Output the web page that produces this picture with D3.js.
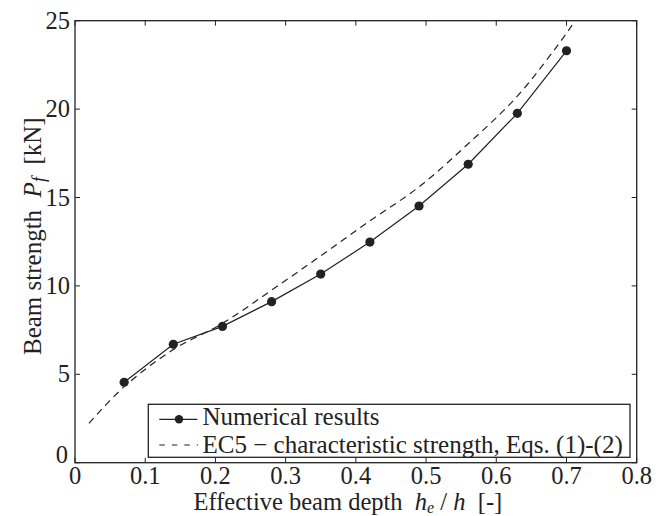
<!DOCTYPE html>
<html><head><meta charset="utf-8">
<script src="https://cdn.jsdelivr.net/npm/d3@7"></script>
<style>body{margin:0;background:#fff}</style>
</head><body><svg id="c" width="672" height="516"></svg>
<script>
const xTicks = [0,0.1,0.2,0.3,0.4,0.5,0.6,0.7,0.8];
const yTicks = [0,5,10,15,20,25];
const numX = [0.07,0.14,0.21,0.28,0.35,0.42,0.49,0.56,0.63,0.70];
const numY = [4.55,6.70,7.71,9.11,10.67,12.48,14.52,16.88,19.76,23.30];
const ecX = [0.02,0.07,0.14,0.21,0.28,0.35,0.42,0.49,0.56,0.63,0.70,0.712];
const ecY = [2.23,4.30,6.40,7.88,9.76,11.70,13.68,15.60,18.04,20.73,24.29,25.0];
const legendLabels = ["Numerical results","EC5 \u2212 characteristic strength, Eqs. (1)-(2)"];

const FF = "'Liberation Serif','Times New Roman',Times,serif";
const svg = d3.select("#c");
const L=75,R=636.7,T=20.7,B=462.7;
const x = d3.scaleLinear().domain([0,0.8]).range([L,R]);
const y = d3.scaleLinear().domain([0,25]).range([B,T]);
const ink="#222";

svg.append("rect").attr("x",L).attr("y",T).attr("width",R-L).attr("height",B-T)
  .attr("fill","none").attr("stroke",ink).attr("stroke-width",1.3);
const tl=5;
xTicks.forEach(v=>{
  svg.append("line").attr("x1",x(v)).attr("x2",x(v)).attr("y1",B).attr("y2",B-tl).attr("stroke",ink);
  svg.append("line").attr("x1",x(v)).attr("x2",x(v)).attr("y1",T).attr("y2",T+tl).attr("stroke",ink);
});
yTicks.forEach(v=>{
  svg.append("line").attr("x1",L).attr("x2",L+tl).attr("y1",y(v)).attr("y2",y(v)).attr("stroke",ink);
  svg.append("line").attr("x1",R).attr("x2",R-tl).attr("y1",y(v)).attr("y2",y(v)).attr("stroke",ink);
});
const fs=24.5;
svg.selectAll(".xt").data(xTicks).enter().append("text")
  .attr("font-family",FF).attr("fill",ink)
  .attr("x",d=>x(d)).attr("y",B+21.5).attr("text-anchor","middle").attr("font-size",fs)
  .text(d=>d===0?"0":d3.format(".1f")(d));
svg.selectAll(".yt").data(yTicks).enter().append("text")
  .attr("font-family",FF).attr("fill",ink)
  .attr("x",d=>d===0?L-7:L-5).attr("y",d=>y(d)+8-(d===0?8:0)).attr("text-anchor","end").attr("font-size",fs)
  .text(d=>d);

const xt = svg.append("text").attr("font-family",FF).attr("fill",ink)
  .attr("x",193.5).attr("y",510).attr("font-size",24.5);
xt.append("tspan").text("Effective beam depth\u2002");
xt.append("tspan").attr("font-style","italic").text("h");
xt.append("tspan").attr("font-style","italic").attr("font-size",16).attr("dy",2.5).text("e");
xt.append("tspan").attr("dy",-2.5).text(" / ");
xt.append("tspan").attr("font-style","italic").text("h");
xt.append("tspan").text("\u2002[-]");

const yt = svg.append("text").attr("font-family",FF).attr("fill",ink)
  .attr("transform","translate(41,355) rotate(-90)").attr("font-size",25);
yt.append("tspan").text("Beam strength\u2002");
yt.append("tspan").attr("font-style","italic").text("P");
yt.append("tspan").attr("font-style","italic").attr("font-size",18).attr("dy",4).text("f");
yt.append("tspan").attr("dy",-4).text("\u2002[kN]");

const ecData = ecX.map((v,i)=>[v,ecY[i]]);
svg.append("path").datum(ecData)
  .attr("d",d3.line().x(d=>x(d[0])).y(d=>y(d[1])).curve(d3.curveCatmullRom))
  .attr("fill","none").attr("stroke",ink).attr("stroke-width",1.2).attr("stroke-dasharray","7,5");

const numData = numX.map((v,i)=>[v,numY[i]]);
svg.append("path").datum(numData)
  .attr("d",d3.line().x(d=>x(d[0])).y(d=>y(d[1])))
  .attr("fill","none").attr("stroke",ink).attr("stroke-width",1.2);
svg.selectAll(".pt").data(numData).enter().append("circle")
  .attr("cx",d=>x(d[0])).attr("cy",d=>y(d[1])).attr("r",4.6).attr("fill",ink);

const lg = svg.append("g");
lg.append("rect").attr("x",148.3).attr("y",404.3).attr("width",630-148.3).attr("height",457.3-404.3)
  .attr("fill","#fff").attr("stroke",ink).attr("stroke-width",1.3);
const rows=[419.3,445];
lg.append("line").attr("x1",159.3).attr("x2",197.3).attr("y1",rows[0]).attr("y2",rows[0]).attr("stroke",ink).attr("stroke-width",1.2);
lg.append("circle").attr("cx",179).attr("cy",rows[0]).attr("r",4.2).attr("fill",ink);
lg.append("line").attr("x1",159.3).attr("x2",198).attr("y1",rows[1]).attr("y2",rows[1]).attr("stroke",ink).attr("stroke-width",1.2).attr("stroke-dasharray","5.5,7");
lg.selectAll(".lt").data(legendLabels).enter().append("text")
  .attr("font-family",FF).attr("fill",ink)
  .attr("x",202.5).attr("y",(d,i)=>[425,452.5][i]).attr("font-size",25).text(d=>d);
</script></body></html>
